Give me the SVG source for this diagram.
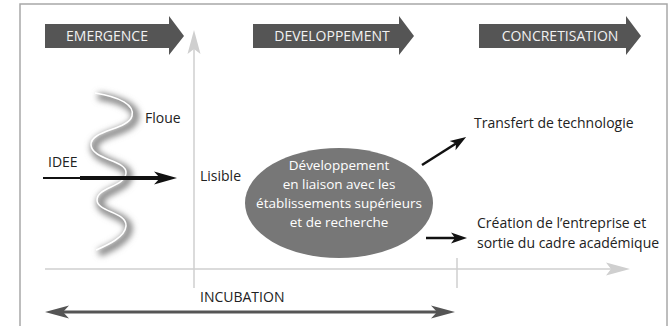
<svg xmlns="http://www.w3.org/2000/svg" width="669" height="326" viewBox="0 0 669 326">
  <style>
    text { font-family: "Open Sans", "Liberation Sans", sans-serif; }
    .phase { fill: #555555; }
    .phase-label { fill: #f2f2f2; font-size: 14px; text-anchor: middle; }
    .label { fill: #222222; font-size: 14px; }
    .on-oval { fill: #ffffff; font-size: 13.5px; text-anchor: middle; }
    .axis { stroke: #cfcfcf; stroke-width: 1.5; fill: none; }
    .black-arrow { stroke: #111111; fill: none; }
  </style>
  <defs>
    <!-- barbed head, tip at x=0 -->
    <marker id="head-black" viewBox="-24 -8 26 16" refX="-17" refY="0" markerWidth="26" markerHeight="16" markerUnits="userSpaceOnUse" orient="auto">
      <path d="M0,0 L-23,-6.5 L-17,0 L-23,6.5 Z" fill="#111111"/>
    </marker>
    <marker id="head-black-small" viewBox="-18 -7 20 14" refX="-12" refY="0" markerWidth="20" markerHeight="14" markerUnits="userSpaceOnUse" orient="auto">
      <path d="M0,0 L-16,-5.5 L-12,0 L-16,5.5 Z" fill="#111111"/>
    </marker>
    <marker id="head-light" viewBox="-26 -8 28 16" refX="-19" refY="0" markerWidth="28" markerHeight="16" markerUnits="userSpaceOnUse" orient="auto">
      <path d="M0,0 L-24,-6.5 L-19,0 L-24,6.5 Z" fill="#cfcfcf"/>
    </marker>
    <marker id="head-dark" viewBox="-26 -8 28 16" refX="-18" refY="0" markerWidth="28" markerHeight="16" markerUnits="userSpaceOnUse" orient="auto-start-reverse">
      <path d="M0,0 L-24,-6.5 L-18,0 L-24,6.5 Z" fill="#555555"/>
    </marker>
    <filter id="soft-shadow" x="-50%" y="-20%" width="200%" height="140%">
      <feGaussianBlur stdDeviation="3.2"/>
    </filter>
  </defs>

  <!-- frame -->
  <rect x="20" y="4" width="647" height="330" fill="#ffffff" stroke="#a8a8a8" stroke-width="1.5"/>

  <!-- phase banners -->
  <g id="emergence">
    <path class="phase" d="M45,24 H169 V16 L184,36 L169,55 V48 H45 Z"/>
    <text class="phase-label" x="107" y="41">EMERGENCE</text>
  </g>
  <g id="developpement">
    <path class="phase" d="M253,24 H399 V16 L414,36 L399,55 V48 H253 Z"/>
    <text class="phase-label" x="332" y="41">DEVELOPPEMENT</text>
  </g>
  <g id="concretisation">
    <path class="phase" d="M479,24 H626 V16 L641,36 L626,55 V48 H479 Z"/>
    <text class="phase-label" x="560" y="41">CONCRETISATION</text>
  </g>

  <!-- axes -->
  <g id="axes">
    <line class="axis" x1="194" y1="288" x2="194" y2="49" marker-end="url(#head-light)"/>
    <line class="axis" x1="45" y1="269" x2="611" y2="269" marker-end="url(#head-light)"/>
    <line class="axis" x1="457" y1="258" x2="457" y2="288"/>
  </g>

  <!-- idea wave -->
  <g id="idee-wave">
    <path d="M95,93 C120,97 135,105 132,116 C128,130 90,130 91,145 C92,160 127,160 126,173 C125,187 97,187 97,200 C97,212 127,212 126,226 C125,238 105,246 96,250" fill="none" stroke="#808080" stroke-width="7" transform="translate(3,3)" filter="url(#soft-shadow)"/>
    <path d="M95,93 C120,97 135,105 132,116 C128,130 90,130 91,145 C92,160 127,160 126,173 C125,187 97,187 97,200 C97,212 127,212 126,226 C125,238 105,246 96,250" fill="none" stroke="#ffffff" stroke-width="1.6"/>
    <text class="label" x="145" y="123">Floue</text>
    <text class="label" x="48" y="167">IDEE</text>
    <text class="label" x="200" y="181">Lisible</text>
  </g>

  <!-- development oval -->
  <g id="developpement-liaison">
    <ellipse cx="339" cy="203" rx="94" ry="55" fill="#777777"/>
    <text class="on-oval" x="339" y="170">Développement</text>
    <text class="on-oval" x="339" y="189">en liaison avec les</text>
    <text class="on-oval" x="339" y="208">établissements supérieurs</text>
    <text class="on-oval" x="339" y="227">et de recherche</text>
  </g>

  <!-- outcomes -->
  <g id="transfert">
    <text class="label" x="474" y="128">Transfert de technologie</text>
  </g>
  <g id="creation">
    <text class="label" x="477" y="228">Création de l’entreprise et</text>
    <text class="label" x="477" y="248">sortie du cadre académique</text>
  </g>

  <!-- incubation span -->
  <g id="incubation">
    <text class="label" x="200" y="302">INCUBATION</text>
  </g>

  <!-- connectors -->
  <g id="connectors">
    <line class="black-arrow" x1="43" y1="178" x2="82" y2="178" stroke-width="1.8"/>
    <line class="black-arrow" x1="80" y1="178" x2="160" y2="178" stroke-width="4" marker-end="url(#head-black)"/>
    <line class="black-arrow" x1="422" y1="165" x2="456" y2="143.5" stroke-width="2.5" marker-end="url(#head-black-small)"/>
    <line class="black-arrow" x1="426" y1="238" x2="455" y2="238" stroke-width="2.5" marker-end="url(#head-black-small)"/>
    <line x1="63" y1="312" x2="437" y2="312" stroke="#555555" stroke-width="3" marker-start="url(#head-dark)" marker-end="url(#head-dark)"/>
  </g>
</svg>
